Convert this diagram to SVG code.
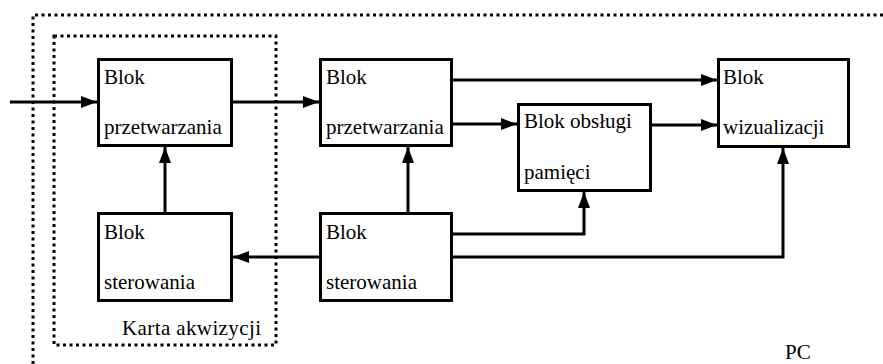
<svg xmlns="http://www.w3.org/2000/svg" width="883" height="364" viewBox="0 0 883 364">
<defs>
<style>
.box{fill:#fff;stroke:#000;stroke-width:3}
.dot{fill:none;stroke:#000;stroke-width:3;stroke-dasharray:3 3.5}
.ln{fill:none;stroke:#000;stroke-width:3;marker-end:url(#ah)}
.t{font-family:'Liberation Serif','Times New Roman',serif;font-size:21px;fill:#000}
</style>
<marker id="ah" markerUnits="userSpaceOnUse" markerWidth="16" markerHeight="12" refX="16" refY="6" orient="auto">
<path d="M0,0 L16,6 L0,12 z" fill="#000"/>
</marker>
</defs>
<rect width="883" height="364" fill="#fff"/>
<g id="pc">
<path class="dot" d="M33,364 V15 H883"/>
<text class="t" x="785" y="359">PC</text>
</g>
<g id="karta">
<rect class="dot" x="54" y="36" width="222" height="309"/>
<text class="t" x="122" y="335" textLength="139">Karta akwizycji</text>
</g>
<g id="connectors">
<path class="ln" d="M10,102 H97"/>
<path class="ln" d="M233,102 H319"/>
<path class="ln" d="M165,212 V147"/>
<path class="ln" d="M408,212 V147"/>
<path class="ln" d="M453,80 H717"/>
<path class="ln" d="M453,124 H517"/>
<path class="ln" d="M652,125 H717"/>
<path class="ln" d="M453,234 H584 V192"/>
<path class="ln" d="M453,257 H783 V148"/>
<path class="ln" d="M319,257 H233"/>
</g>
<g id="przetw1">
<rect class="box" x="98.5" y="59.5" width="133" height="86"/>
<text class="t" x="104" y="84">Blok</text>
<text class="t" x="104" y="134">przetwarzania</text>
</g>
<g id="sterow1">
<rect class="box" x="98.5" y="213.5" width="133" height="87"/>
<text class="t" x="104" y="239">Blok</text>
<text class="t" x="104" y="289">sterowania</text>
</g>
<g id="przetw2">
<rect class="box" x="320.5" y="59.5" width="131" height="86"/>
<text class="t" x="326" y="84">Blok</text>
<text class="t" x="326" y="134">przetwarzania</text>
</g>
<g id="sterow2">
<rect class="box" x="320.5" y="213.5" width="131" height="87"/>
<text class="t" x="326" y="239">Blok</text>
<text class="t" x="326" y="289">sterowania</text>
</g>
<g id="pamieci">
<rect class="box" x="518.5" y="104.5" width="132" height="86"/>
<text class="t" x="524" y="128">Blok obsługi</text>
<text class="t" x="524" y="179">pamięci</text>
</g>
<g id="wizualizacji">
<rect class="box" x="718.5" y="59.5" width="130" height="87"/>
<text class="t" x="723" y="84">Blok</text>
<text class="t" x="723" y="134">wizualizacji</text>
</g>
</svg>
